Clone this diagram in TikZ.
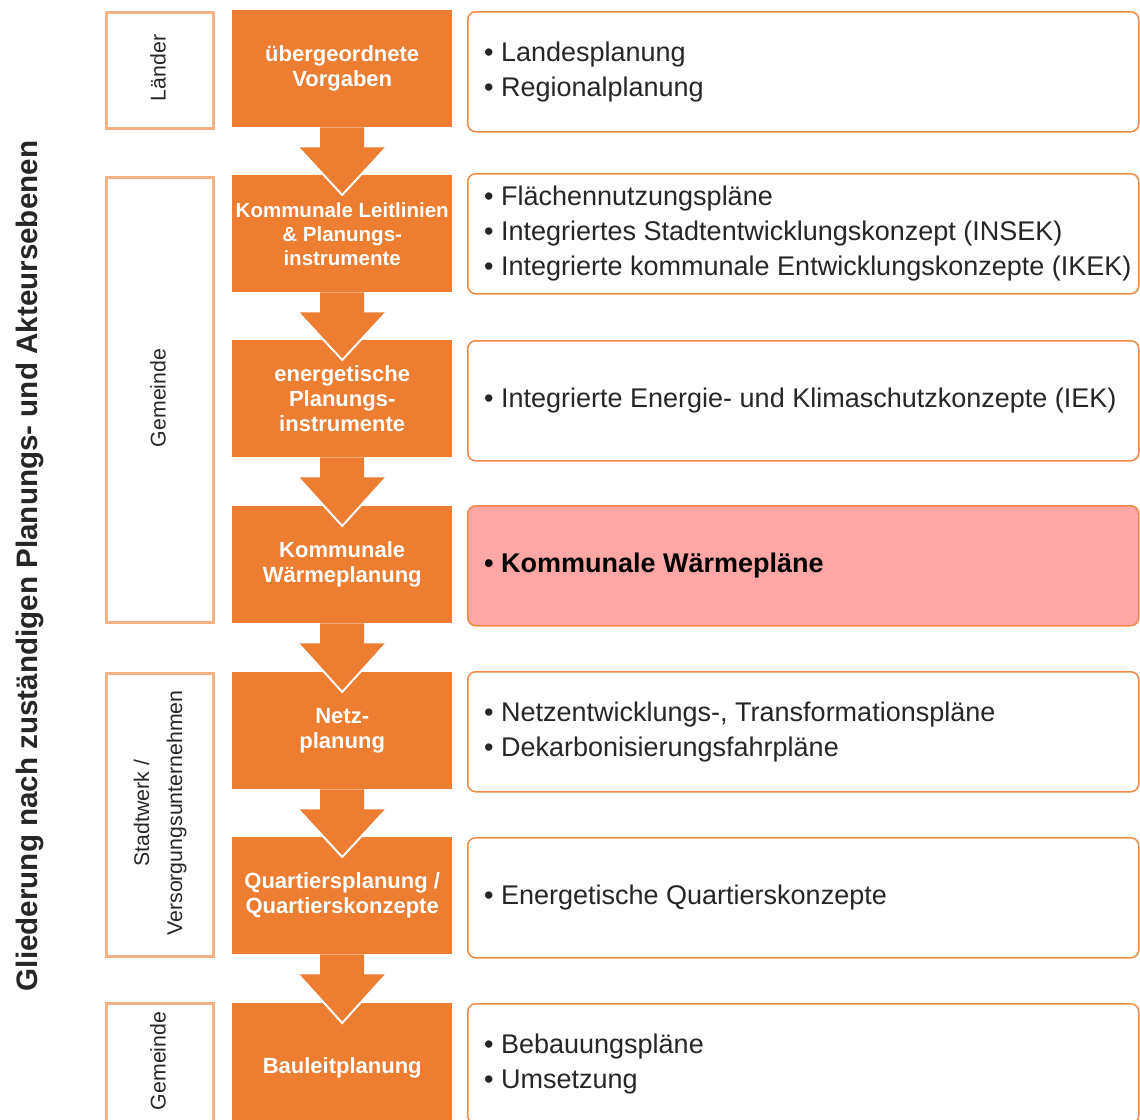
\documentclass[tikz,border=0pt]{standalone}
\usepackage{fontspec}
\setmainfont{Liberation Sans}
\usetikzlibrary{calc}
\definecolor{obox}{HTML}{ED7D31}
\definecolor{lborder}{HTML}{F5B084}
\definecolor{rborder}{HTML}{F08A45}
\definecolor{pinkfill}{HTML}{FFA6A7}
\definecolor{txt}{HTML}{262626}
\begin{document}
\begin{tikzpicture}[x=1pt,y=-1pt,
  orangebox/.style={fill=obox, minimum width=220pt, minimum height=117pt, anchor=north west,
    inner sep=0pt, text=white, font=\bfseries\fontsize{22}{25}\selectfont, align=center},
  infobox/.style={draw=rborder, line width=1.5pt, rounded corners=8pt, fill=white,
    minimum height=120pt, minimum width=671pt, inner sep=0pt, anchor=north west},
  infotext/.style={anchor=west, inner sep=0pt, align=left, text=txt, font=\fontsize{27}{35}\selectfont},
  actorbox/.style={draw=lborder, line width=2.5pt, anchor=north west, minimum width=107pt, inner sep=0pt},
  actortext/.style={rotate=90, text=txt, font=\fontsize{21.3}{33}\selectfont, align=center},
  arrowedge/.style={white, line width=2pt}
]
\useasboundingbox (0,0) rectangle (1140,1119);

% right info boxes
\node[infobox] (r1) at (467,11) {};
\node[infobox] (r2) at (467,173) {};
\node[infobox] (r3) at (467,340) {};
\node[infobox, fill=pinkfill] (r4) at (467,505) {};
\node[infobox] (r5) at (467,671) {};
\node[infobox] (r6) at (467,837) {};
\node[infobox] (r7) at (467,1003) {};

\node[infotext] (x1) at ($(r1.west)+(17,0)$) {• Landesplanung\\• Regionalplanung};
\node[infotext] (x2) at ($(r2.west)+(17,0)$) {• Flächennutzungspläne\\• Integriertes Stadtentwicklungskonzept (INSEK)\\• Integrierte kommunale Entwicklungskonzepte (IKEK)};
\node[infotext] (x3) at ($(r3.west)+(17,0)$) {• Integrierte Energie- und Klimaschutzkonzepte (IEK)};
\node[infotext, text=black, font=\bfseries\fontsize{27}{35}\selectfont] (x4) at ($(r4.west)+(17,0)$) {• Kommunale Wärmepläne};
\node[infotext] (x5) at ($(r5.west)+(17,0)$) {• Netzentwicklungs-, Transformationspläne\\• Dekarbonisierungsfahrpläne};
\node[infotext] (x6) at ($(r6.west)+(17,0)$) {• Energetische Quartierskonzepte};
\node[infotext] (x7) at ($(r7.west)+(17,0)$) {• Bebauungspläne\\• Umsetzung};

% orange boxes
\node[orangebox] (o1) at (232,10) {übergeordnete\\Vorgaben};
\node[orangebox, font=\bfseries\fontsize{20.5}{24}\selectfont] (o2) at (232,175) {Kommunale Leitlinien\\\& Planungs-\\instrumente};
\node[orangebox] (o3) at (232,340) {energetische\\Planungs-\\instrumente};
\node[orangebox] (o4) at (232,506) {Kommunale\\Wärmeplanung};
\node[orangebox] (o5) at (232,672) {Netz-\\planung};
\node[orangebox] (o6) at (232,837) {Quartiersplanung /\\Quartierskonzepte};
\node[orangebox, minimum height=130pt] (o7) at (232,1003) {Bauleitplanung};

% arrows between orange boxes
\foreach \a/\b in {o1/o2,o2/o3,o3/o4,o4/o5,o5/o6,o6/o7}{
  \fill[obox] ($(\a.south)+(-22,0)$) -- ($(\a.south)+(-22,20)$) -- ($(\a.south)+(-44,20)$)
     -- ($(\b.north)+(0,20)$) -- ($(\a.south)+(44,20)$) -- ($(\a.south)+(22,20)$)
     -- ($(\a.south)+(22,0)$) -- cycle;
  \draw[arrowedge] ($(\a.south)+(-44,20)$) -- ($(\b.north)+(0,20)$) -- ($(\a.south)+(44,20)$);
}

% actor boxes
\node[actorbox, minimum height=116pt] (l1) at (105,11) {};
\node[actorbox, minimum height=445pt] (l2) at (105,176) {};
\node[actorbox, minimum height=283pt] (l3) at (105,672) {};
\node[actorbox, minimum height=140pt] (l4) at (105,1002) {};

\node[actortext] (t1) at (158,68) {Länder};
\node[actortext] (t2) at (158,398) {Gemeinde};
\node[actortext] (t3) at (160,813) {Stadtwerk /\\Versorgungsunternehmen};
\node[actortext] (t4) at (158,1061) {Gemeinde};

% title
\node[rotate=90, text=txt, font=\bfseries\fontsize{29.6}{33}\selectfont] (title) at (30,566) {Gliederung nach zuständigen Planungs- und Akteursebenen};
\end{tikzpicture}
\end{document}
